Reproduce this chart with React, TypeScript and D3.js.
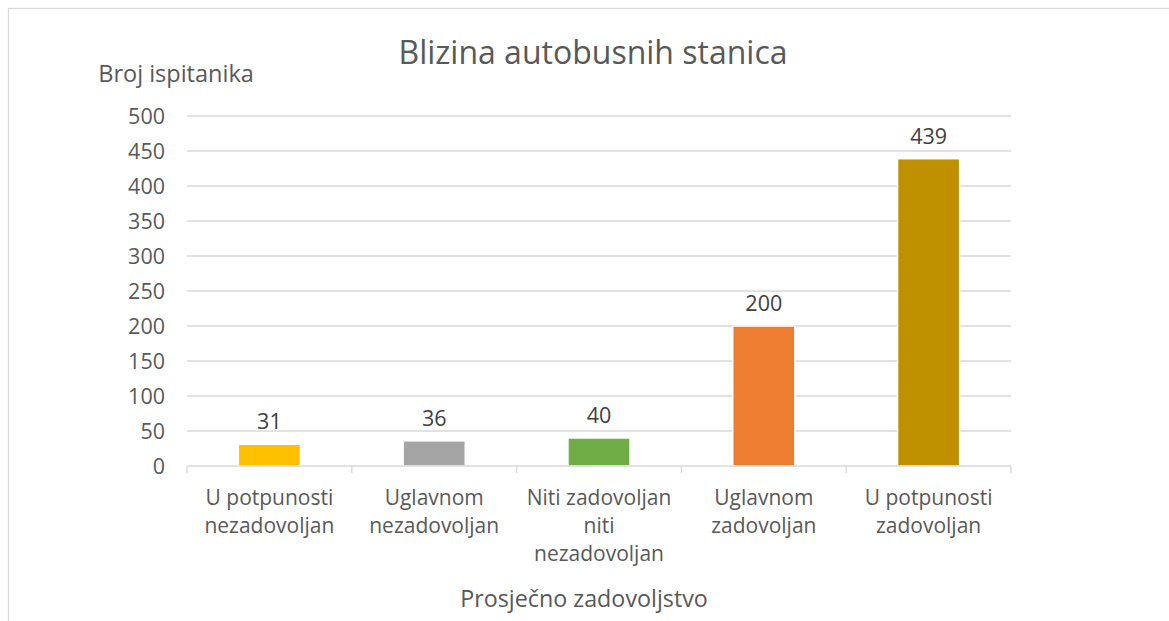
import React from "react";
import * as d3 from "d3";

const categories: string[][] = [
  ["U potpunosti", "nezadovoljan"],
  ["Uglavnom", "nezadovoljan"],
  ["Niti zadovoljan", "niti", "nezadovoljan"],
  ["Uglavnom", "zadovoljan"],
  ["U potpunosti", "zadovoljan"],
];
const values: number[] = [31, 36, 40, 200, 439];
const colors: string[] = ["#FFC000", "#A5A5A5", "#70AD47", "#ED7D31", "#BF9000"];
const yTicks: number[] = [0, 50, 100, 150, 200, 250, 300, 350, 400, 450, 500];
const title = "Blizina autobusnih stanica";
const yTitle = "Broj ispitanika";
const xTitle = "Prosječno zadovoljstvo";

const W = 1169;
const H = 621;
const left = 187;
const right = 1011;
const top = 116;
const bottom = 466;
const FONT = "'Open Sans', sans-serif";
const TXT = "#595959";

export default function App() {
  const x = d3
    .scaleBand<number>()
    .domain(values.map((_, i) => i))
    .range([left, right])
    .paddingInner(0)
    .paddingOuter(0);
  const y = d3.scaleLinear().domain([0, 500]).range([bottom, top]);
  const bw = x.bandwidth() * 0.377;
  const edges = d3.range(values.length + 1).map((i) => left + i * x.bandwidth());

  return (
    <svg
      width={W}
      height={H}
      style={{ position: "absolute", left: 0, top: 0, background: "#fff" }}
      fontFamily={FONT}
    >
      <rect x={8.5} y={8.5} width={1200} height={700} fill="#fff" stroke="#d9d9d9" strokeWidth={1.3} />
      <text x={593} y={64} textAnchor="middle" fontSize={32} fill={TXT}>
        {title}
      </text>
      <text x={176} y={82} textAnchor="middle" fontSize={23.5} fill={TXT}>
        {yTitle}
      </text>
      {yTicks.map((t) => (
        <g key={t}>
          {t > 0 && (
            <line x1={left} x2={right} y1={y(t)} y2={y(t)} stroke="#d9d9d9" strokeWidth={1.3} />
          )}
          <text x={165} y={y(t)} dy="0.36em" textAnchor="end" fontSize={21.5} fill={TXT}>
            {t}
          </text>
        </g>
      ))}
      {values.map((v, i) => {
        const cx = (x(i) as number) + x.bandwidth() / 2;
        return (
          <g key={i}>
            <rect
              x={cx - bw / 2}
              y={y(v)}
              width={bw}
              height={bottom - y(v)}
              fill={colors[i]}
              stroke="#fff"
              strokeWidth={1.5}
            />
            <text x={cx} y={y(v) - 15} textAnchor="middle" fontSize={21.5} fill="#404040">
              {v}
            </text>
            {categories[i].map((line, j) => (
              <text key={j} x={cx} y={505 + j * 28} textAnchor="middle" fontSize={21} fill={TXT}>
                {line}
              </text>
            ))}
          </g>
        );
      })}
      <line x1={left} x2={right} y1={bottom} y2={bottom} stroke="#d9d9d9" strokeWidth={1.3} />
      {edges.map((e, i) => (
        <line key={i} x1={e} x2={e} y1={bottom} y2={bottom + 7} stroke="#d9d9d9" strokeWidth={1.3} />
      ))}
      <text x={584} y={607} textAnchor="middle" fontSize={23.3} fill={TXT}>
        {xTitle}
      </text>
    </svg>
  );
}
